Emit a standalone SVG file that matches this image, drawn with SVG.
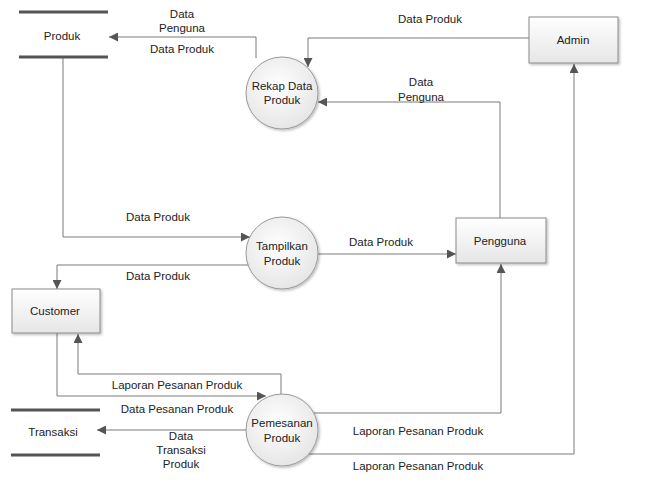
<svg xmlns="http://www.w3.org/2000/svg" width="650" height="503" viewBox="0 0 650 503">
<defs>
<radialGradient id="cg" cx="0.45" cy="0.4" r="0.65">
<stop offset="0" stop-color="#ffffff"/>
<stop offset="1" stop-color="#e4e4e4"/>
</radialGradient>
<linearGradient id="bg" x1="0" y1="0" x2="0" y2="1">
<stop offset="0" stop-color="#ffffff"/>
<stop offset="1" stop-color="#e6e6e6"/>
</linearGradient>
<filter id="sh" x="-10%" y="-10%" width="130%" height="130%">
<feDropShadow dx="1.5" dy="1.5" stdDeviation="1" flood-color="#000" flood-opacity="0.25"/>
</filter>
<marker id="ar" viewBox="0 0 10 10" refX="10" refY="5" markerWidth="9" markerHeight="9" markerUnits="userSpaceOnUse" orient="auto">
<path d="M0,0 L10,5 L0,10 z" fill="#555"/>
</marker>
</defs>
<style>
text{font-family:"Liberation Sans",Arial,sans-serif;font-size:11.5px;fill:#222;text-anchor:middle;dominant-baseline:central}
.box{fill:url(#bg);stroke:#8a8a8a;stroke-width:1;filter:url(#sh)}
.proc{fill:url(#cg);stroke:#999;stroke-width:1;filter:url(#sh)}
.store{stroke:#555;stroke-width:3}
.c{fill:none;stroke:#7a7a7a;stroke-width:1}
.a{marker-end:url(#ar)}
</style>
<rect width="650" height="503" fill="#fff"/>
<g id="connectors">
<path class="c a" d="M256,58 V37 H109"/>
<path class="c a" d="M529,38 H308 V67"/>
<path class="c a" d="M500,218 V102 H318"/>
<path class="c a" d="M63,57 V237 H250"/>
<path class="c a" d="M248,265 H57 V289"/>
<path class="c a" d="M318,254 H456"/>
<path class="c a" d="M57,333 V396 H266"/>
<path class="c a" d="M281,395 V374 H78 V334"/>
<path class="c a" d="M246,430 H97"/>
<path class="c a" d="M314,413 H501 V264"/>
<path class="c a" d="M309,454 H574 V64"/>
<text x="182" y="14">Data</text>
<text x="182" y="28">Penguna</text>
<text x="182" y="49">Data Produk</text>
<text x="430" y="19">Data Produk</text>
<text x="421" y="82">Data</text>
<text x="421" y="97">Penguna</text>
<text x="158" y="217">Data Produk</text>
<text x="158" y="276">Data Produk</text>
<text x="381" y="242">Data Produk</text>
<text x="177" y="385">Laporan Pesanan Produk</text>
<text x="177" y="409">Data Pesanan Produk</text>
<text x="181" y="436">Data</text>
<text x="181" y="450">Transaksi</text>
<text x="181" y="464">Produk</text>
<text x="418" y="431">Laporan Pesanan Produk</text>
<text x="418" y="466">Laporan Pesanan Produk</text>
</g>
<g id="produk">
<line class="store" x1="19" y1="12" x2="108" y2="12"/>
<line class="store" x1="19" y1="57" x2="108" y2="57"/>
<text x="62" y="36">Produk</text>
</g>
<g id="transaksi">
<line class="store" x1="11" y1="410" x2="100" y2="410"/>
<line class="store" x1="11" y1="455" x2="100" y2="455"/>
<text x="53" y="432">Transaksi</text>
</g>
<g id="admin">
<rect class="box" x="529" y="17" width="89" height="46"/>
<text x="573" y="40">Admin</text>
</g>
<g id="pengguna">
<rect class="box" x="456" y="218" width="90" height="45"/>
<text x="500" y="241">Pengguna</text>
</g>
<g id="customer">
<rect class="box" x="12" y="289" width="88" height="44"/>
<text x="55" y="311">Customer</text>
</g>
<g id="rekap">
<circle class="proc" cx="282" cy="93" r="36"/>
<text x="282" y="86">Rekap Data</text>
<text x="282" y="100">Produk</text>
</g>
<g id="tampilkan">
<circle class="proc" cx="282" cy="253" r="36"/>
<text x="282" y="246">Tampilkan</text>
<text x="282" y="261">Produk</text>
</g>
<g id="pemesanan">
<circle class="proc" cx="282" cy="430" r="36"/>
<text x="282" y="423">Pemesanan</text>
<text x="282" y="438">Produk</text>
</g>
</svg>
